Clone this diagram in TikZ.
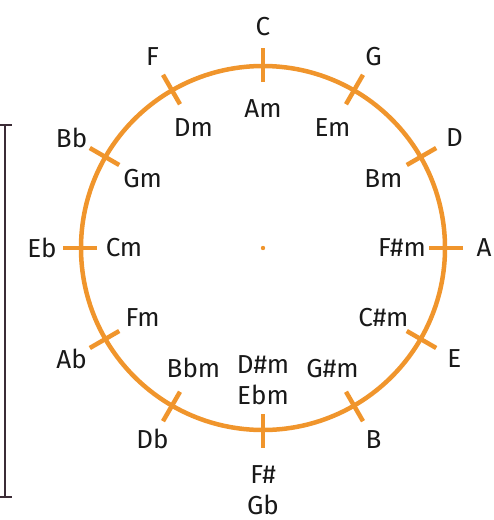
\documentclass[tikz,border=0pt]{standalone}
\usepackage{fontspec}
\setmainfont{Fira Sans}
\usetikzlibrary{calc}
\definecolor{wheelorange}{HTML}{F0952C}
\definecolor{bracketdark}{HTML}{3B2C36}

\begin{document}
\begin{tikzpicture}[
    x=1pt, y=1pt,
    every node/.style={font=\fontsize{26}{31}\selectfont, text=black!90, align=center, inner sep=1pt},
    wheel/.style={draw=wheelorange, line width=4.5pt},
    notch/.style={draw=wheelorange, line width=4.5pt},
    keylabel/.style={},
    minorlabel/.style={},
    bracket/.style={draw=bracketdark, line width=1.6pt}
]
\useasboundingbox (0,0) rectangle (494,-520);

% Wheel
\coordinate (centre) at (263,-248);
\draw[wheel] (centre) circle[radius=182];
\fill[wheelorange] (centre) circle[radius=2.2];

% Notches and key names
\foreach \ang/\major/\minor [count=\i] in {90/C/Am, 60/G/Em, 30/D/Bm, 0/A/F\#m,
    -30/E/C\#m, -60/B/G\#m, -120/Db/Bbm, -150/Ab/Fm, 180/Eb/Cm, 150/Bb/Gm, 120/F/Dm} {
  \draw[notch] ($(centre)+(\ang:166)$) -- ($(centre)+(\ang:200)$);
  \node[keylabel] (major\i) at ($(centre)+(\ang:221)$) {\major};
  \node[minorlabel] (minor\i) at ($(centre)+(\ang:139)$) {\minor};
}
\draw[notch] ($(centre)+(-90:166)$) -- ($(centre)+(-90:200)$);
\node[keylabel] (majorFs) at ($(centre)+(-90:242)$) {F\#\\Gb};
\node[minorlabel] (minorDs) at ($(centre)+(-90:132)$) {D\#m\\Ebm};

% Edge bracket
\draw[bracket] (0,-125) -- (12,-125);
\draw[bracket] (5,-125) -- (5,-497);
\draw[bracket] (0,-497) -- (12,-497);

\end{tikzpicture}
\end{document}
